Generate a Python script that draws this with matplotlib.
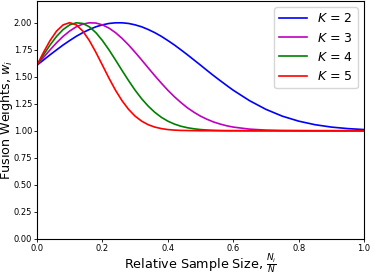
import matplotlib

matplotlib.use("Agg")
import matplotlib.pyplot as plt

# relative sample size N_i / N
x = [0.00, 0.02, 0.04, 0.06, 0.08, 0.10, 0.12, 0.14, 0.16, 0.18,
     0.20, 0.22, 0.24, 0.26, 0.28, 0.30, 0.32, 0.34, 0.36, 0.38,
     0.40, 0.42, 0.44, 0.46, 0.48, 0.50, 0.52, 0.54, 0.56, 0.58,
     0.60, 0.65, 0.70, 0.75, 0.80, 0.85, 0.90, 0.95, 1.00]

# fusion weights
w_k2 = [1.607, 1.655, 1.703, 1.749, 1.794, 1.835, 1.874, 1.908, 1.937, 1.962,
        1.980, 1.993, 1.999, 1.999, 1.993, 1.980, 1.962, 1.937, 1.908, 1.874,
        1.835, 1.794, 1.749, 1.703, 1.655, 1.607, 1.558, 1.510, 1.464, 1.419,
        1.375, 1.278, 1.198, 1.135, 1.089, 1.056, 1.034, 1.020, 1.011]
w_k3 = [1.607, 1.679, 1.749, 1.815, 1.874, 1.923, 1.962, 1.987, 1.999, 1.997,
        1.980, 1.950, 1.908, 1.855, 1.794, 1.726, 1.655, 1.582, 1.510, 1.441,
        1.375, 1.315, 1.261, 1.212, 1.171, 1.135, 1.106, 1.081, 1.062, 1.046,
        1.034, 1.015, 1.006, 1.002, 1.001, 1.000, 1.000, 1.000, 1.000]
w_k4 = [1.607, 1.703, 1.794, 1.874, 1.937, 1.980, 1.999, 1.993, 1.962, 1.908,
        1.835, 1.749, 1.655, 1.558, 1.464, 1.375, 1.296, 1.228, 1.171, 1.125,
        1.089, 1.062, 1.042, 1.028, 1.018, 1.011, 1.007, 1.004, 1.002, 1.001,
        1.001, 1.000, 1.000, 1.000, 1.000, 1.000, 1.000, 1.000, 1.000]
w_k5 = [1.607, 1.726, 1.835, 1.923, 1.980, 2.000, 1.980, 1.923, 1.835, 1.726,
        1.607, 1.487, 1.375, 1.278, 1.198, 1.135, 1.089, 1.056, 1.034, 1.020,
        1.011, 1.006, 1.003, 1.002, 1.001, 1.000, 1.000, 1.000, 1.000, 1.000,
        1.000, 1.000, 1.000, 1.000, 1.000, 1.000, 1.000, 1.000, 1.000]

series = [(w_k2, "b", "$K$ = 2"), (w_k3, "m", "$K$ = 3"),
          (w_k4, "g", "$K$ = 4"), (w_k5, "r", "$K$ = 5")]

fig = plt.figure(figsize=(3.7, 2.72), dpi=100)
ax = fig.add_axes([0.1, 0.122, 0.884, 0.874])

for w, color, label in series:
    ax.plot(x, w, color=color, lw=1.2, label=label)

ax.set_xlim(0, 1)
ax.set_ylim(0, 2.2)
ax.set_yticks([0, 0.25, 0.5, 0.75, 1.0, 1.25, 1.5, 1.75, 2.0])
ax.tick_params(labelsize=6, length=2, width=0.6, pad=1.5)
for s in ax.spines.values():
    s.set_linewidth(0.8)

ax.set_xlabel(r"Relative Sample Size, $\frac{N_i}{N}$", fontsize=9.2)
ax.xaxis.set_label_coords(0.5, -0.056)
ax.set_ylabel(r"Fusion Weights, $w_i$", fontsize=9.2)
ax.yaxis.set_label_coords(-0.066, 0.5)
ax.legend(loc="upper right", fontsize=9, handlelength=2.2)

fig.savefig("out.png", dpi=100)
